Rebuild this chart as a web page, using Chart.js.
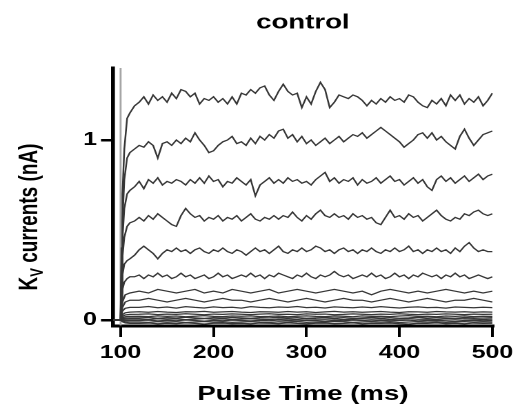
<!DOCTYPE html>
<html><head><meta charset="utf-8">
<script src="https://cdn.jsdelivr.net/npm/chart.js@4.4.0/dist/chart.umd.min.js"></script>
<style>
html,body{margin:0;padding:0;background:#fff;overflow:hidden}
#wrap{position:absolute;left:0;top:0;width:377px;height:407px;transform:scaleX(1.37931);transform-origin:0 0}
</style></head><body>
<div id="wrap"><canvas id="c" width="377" height="407"></canvas></div>
<script>
// ---- text ----
const titleText = 'control';
const xTitle = 'Pulse Time (ms)';
const yTitleMain = 'K', yTitleSub = 'V', yTitleRest = ' currents (nA)';
const xTicks = [100, 200, 300, 400, 500];
const yTicks = [0, 1];

// ---- time bases (ms) ----
const tFine = [92,99,100,101,102,104,107,110,
115,120,125,130,135,140,145,150,155,160,
165,170,175,180,185,190,195,200,205,210,
215,220,225,230,235,240,245,250,255,260,
265,270,275,280,285,290,295,300,305,310,
315,320,325,330,335,340,345,350,355,360,
365,370,375,380,385,390,395,400,405,410,
415,420,425,430,435,440,445,450,455,460,
465,470,475,480,485,490,495,500];
const tCoarse = [92,99,100,102,105,110,
120,130,140,150,160,170,180,190,200,210,
220,230,240,250,260,270,280,290,300,310,
320,330,340,350,360,370,380,390,400,410,
420,430,440,450,460,470,480,490,500];

// ---- current traces (nA) ----
const trace1 = [0,0,0,0.4,0.7,0.95,1.12,1.15,
1.19,1.21,1.24,1.20,1.25,1.22,1.24,1.21,1.26,1.23,
1.28,1.27,1.24,1.26,1.20,1.23,1.22,1.24,1.21,1.23,
1.20,1.24,1.20,1.26,1.25,1.28,1.26,1.29,1.30,1.25,
1.22,1.27,1.31,1.27,1.25,1.26,1.18,1.24,1.20,1.27,
1.32,1.28,1.18,1.21,1.25,1.24,1.23,1.25,1.24,1.22,
1.19,1.22,1.20,1.23,1.21,1.24,1.22,1.23,1.21,1.25,
1.24,1.21,1.19,1.18,1.22,1.20,1.23,1.19,1.25,1.22,
1.25,1.20,1.23,1.21,1.24,1.19,1.22,1.26];
const trace2 = [0,0,0,0.3,0.55,0.78,0.9,0.93,
0.95,0.97,0.96,0.99,0.97,0.90,0.98,0.99,0.97,1.00,
0.98,1.01,0.99,1.04,1.00,0.97,0.93,0.94,0.97,0.99,
1.00,1.02,0.98,0.99,0.97,1.01,0.98,1.02,1.00,1.03,
1.01,1.05,1.06,1.01,1.03,0.99,1.02,0.98,1.00,0.97,
0.99,1.01,0.98,1.00,1.02,0.99,1.01,1.03,1.02,1.04,
1.01,1.03,1.05,1.07,1.05,1.03,1.01,0.99,0.96,0.98,
1.00,1.03,1.04,1.01,1.04,1.00,1.02,0.99,0.97,0.95,
1.02,1.06,1.01,0.97,1.00,1.03,1.04,1.05];
const trace3 = [0,0,0,0.25,0.45,0.62,0.7,0.72,
0.74,0.77,0.73,0.78,0.76,0.79,0.75,0.77,0.76,0.78,
0.77,0.75,0.78,0.76,0.79,0.76,0.80,0.77,0.78,0.74,
0.77,0.76,0.79,0.77,0.75,0.78,0.69,0.75,0.77,0.79,
0.76,0.78,0.76,0.79,0.77,0.78,0.76,0.77,0.75,0.78,
0.80,0.82,0.77,0.79,0.76,0.78,0.77,0.79,0.75,0.78,
0.76,0.77,0.79,0.76,0.78,0.80,0.77,0.78,0.75,0.77,
0.79,0.76,0.78,0.74,0.72,0.78,0.80,0.77,0.79,0.76,
0.78,0.80,0.77,0.79,0.81,0.78,0.80,0.81];
const trace4 = [0,0,0,0.2,0.35,0.46,0.52,0.54,
0.55,0.57,0.55,0.58,0.56,0.59,0.57,0.55,0.53,0.52,
0.58,0.62,0.59,0.57,0.58,0.55,0.57,0.56,0.58,0.55,
0.57,0.56,0.58,0.55,0.57,0.59,0.56,0.55,0.57,0.56,
0.58,0.56,0.58,0.57,0.60,0.57,0.55,0.58,0.56,0.59,
0.61,0.58,0.57,0.59,0.57,0.58,0.56,0.59,0.57,0.58,
0.56,0.57,0.54,0.53,0.57,0.61,0.57,0.58,0.56,0.59,
0.57,0.58,0.55,0.57,0.59,0.61,0.58,0.56,0.55,0.57,
0.56,0.59,0.58,0.60,0.61,0.59,0.58,0.59];
const trace5 = [0,0,0,0.15,0.25,0.31,0.33,0.34,
0.36,0.39,0.41,0.39,0.37,0.34,0.37,0.39,0.38,0.40,
0.38,0.39,0.37,0.39,0.40,0.38,0.37,0.39,0.38,0.40,
0.38,0.37,0.39,0.38,0.36,0.38,0.40,0.38,0.39,0.37,
0.39,0.41,0.38,0.37,0.39,0.38,0.40,0.38,0.39,0.41,
0.40,0.38,0.39,0.37,0.39,0.40,0.38,0.39,0.37,0.39,
0.38,0.40,0.38,0.37,0.39,0.38,0.40,0.38,0.39,0.41,
0.38,0.39,0.37,0.39,0.38,0.40,0.38,0.39,0.37,0.40,
0.38,0.41,0.43,0.40,0.38,0.39,0.38,0.38];
const trace6 = [0,0,0,0.1,0.17,0.21,0.23,0.24,
0.24,0.25,0.23,0.25,0.24,0.26,0.24,0.25,0.23,0.24,
0.26,0.24,0.25,0.23,0.24,0.25,0.23,0.24,0.26,0.24,
0.25,0.23,0.24,0.25,0.24,0.26,0.24,0.25,0.23,0.25,
0.24,0.26,0.25,0.24,0.23,0.25,0.24,0.26,0.24,0.23,
0.25,0.24,0.25,0.27,0.25,0.24,0.25,0.23,0.24,0.25,
0.24,0.26,0.24,0.25,0.23,0.24,0.26,0.24,0.25,0.23,
0.25,0.24,0.26,0.25,0.24,0.25,0.23,0.25,0.24,0.26,
0.24,0.25,0.23,0.24,0.25,0.24,0.23,0.24];
const trace7 = [0,0,0,0.1,0.14,0.15,
0.16,0.15,0.17,0.16,0.15,0.16,0.17,0.15,0.16,0.15,
0.17,0.16,0.15,0.16,0.17,0.15,0.16,0.17,0.16,0.15,
0.16,0.17,0.16,0.15,0.16,0.14,0.16,0.17,0.16,0.15,
0.16,0.15,0.16,0.17,0.16,0.15,0.16,0.15,0.16];
const trace8 = [0,0,0,0.07,0.1,0.11,
0.11,0.12,0.11,0.10,0.11,0.12,0.11,0.10,0.11,0.12,
0.11,0.11,0.10,0.11,0.12,0.11,0.10,0.11,0.12,0.11,
0.10,0.11,0.12,0.11,0.11,0.10,0.11,0.12,0.11,0.10,
0.11,0.12,0.11,0.10,0.11,0.11,0.12,0.11,0.10];
const trace9 = [0,0,0,0.05,0.065,0.07,
0.07,0.075,0.068,0.072,0.066,0.074,0.07,0.067,0.073,0.069,
0.071,0.066,0.074,0.07,0.068,0.072,0.07,0.075,0.069,0.071,
0.067,0.073,0.07,0.068,0.072,0.069,0.074,0.07,0.067,0.071,
0.073,0.069,0.07,0.066,0.072,0.07,0.068,0.071,0.069];
const trace10 = [0,0,0,0.03,0.04,0.044,
0.046,0.043,0.047,0.044,0.042,0.046,0.045,0.048,0.043,0.045,
0.047,0.044,0.042,0.046,0.045,0.043,0.047,0.044,0.046,0.042,
0.045,0.048,0.044,0.046,0.043,0.045,0.047,0.044,0.042,0.046,
0.045,0.043,0.047,0.045,0.044,0.046,0.043,0.045,0.044];
const trace11 = [0,0,0,0.02,0.028,0.031,
0.032,0.034,0.03,0.033,0.031,0.035,0.032,0.029,0.033,0.031,
0.034,0.032,0.03,0.033,0.035,0.031,0.032,0.03,0.034,0.032,
0.033,0.029,0.031,0.034,0.032,0.03,0.033,0.031,0.035,0.032,
0.03,0.033,0.031,0.034,0.032,0.03,0.033,0.031,0.032];
const trace12 = [0,0,0,0.012,0.018,0.02,
0.021,0.019,0.023,0.02,0.022,0.018,0.021,0.024,0.02,0.019,
0.022,0.021,0.023,0.019,0.02,0.022,0.018,0.021,0.023,0.02,
0.019,0.022,0.021,0.018,0.023,0.02,0.021,0.019,0.022,0.024,
0.02,0.021,0.018,0.022,0.02,0.023,0.019,0.021,0.02];
const trace13 = [0,0,0,0.007,0.01,0.012,
0.012,0.014,0.01,0.013,0.011,0.015,0.012,0.009,0.013,0.011,
0.014,0.012,0.01,0.013,0.012,0.015,0.011,0.013,0.01,0.012,
0.014,0.011,0.013,0.009,0.012,0.014,0.011,0.013,0.01,0.012,
0.015,0.011,0.013,0.012,0.01,0.014,0.012,0.011,0.013];
const trace14 = [0,0,0,0.003,0.004,0.005,
0.005,0.003,0.007,0.004,0.006,0.002,0.005,0.008,0.004,0.006,
0.003,0.005,0.007,0.004,0.002,0.006,0.005,0.003,0.007,0.005,
0.004,0.006,0.002,0.005,0.007,0.004,0.006,0.003,0.005,0.008,
0.004,0.005,0.003,0.006,0.004,0.007,0.005,0.003,0.005];
const trace15 = [0,0,0,-0.002,-0.003,-0.003,
-0.003,-0.001,-0.005,-0.002,-0.004,0.0,-0.003,-0.006,-0.002,-0.004,
-0.001,-0.003,-0.005,-0.002,-0.004,0.0,-0.003,-0.005,-0.002,-0.003,
-0.006,-0.002,-0.004,-0.001,-0.003,-0.005,-0.002,-0.004,-0.003,-0.001,
-0.005,-0.003,-0.002,-0.004,-0.006,-0.003,-0.002,-0.004,-0.003];
const trace16 = [0,0,0,-0.006,-0.01,-0.011,
-0.011,-0.013,-0.009,-0.012,-0.01,-0.014,-0.011,-0.008,-0.012,-0.01,
-0.013,-0.011,-0.009,-0.012,-0.014,-0.01,-0.011,-0.009,-0.013,-0.011,
-0.012,-0.008,-0.01,-0.013,-0.011,-0.009,-0.012,-0.01,-0.014,-0.011,
-0.009,-0.012,-0.01,-0.013,-0.011,-0.009,-0.012,-0.01,-0.011];
const trace17 = [0,0,0,-0.01,-0.016,-0.019,
-0.019,-0.017,-0.021,-0.018,-0.02,-0.016,-0.019,-0.022,-0.018,-0.017,
-0.02,-0.019,-0.021,-0.017,-0.018,-0.02,-0.016,-0.019,-0.021,-0.018,
-0.017,-0.02,-0.019,-0.016,-0.021,-0.018,-0.019,-0.017,-0.02,-0.022,
-0.018,-0.019,-0.016,-0.02,-0.018,-0.021,-0.017,-0.019,-0.018];

// capacitive transient at pulse onset
const transientT = [100, 100];
const transientI = [-0.03, 1.4];

const fineTraces = [trace1, trace2, trace3, trace4, trace5, trace6];
const coarseTraces = [trace7, trace8, trace9, trace10, trace11, trace12, trace13, trace14, trace15, trace16, trace17];

const pts = (ts, vs) => ts.map((t, i) => ({x: t, y: vs[i]}));
const lineDs = (data) => ({data, borderColor: '#363636', borderWidth: 1.25, pointRadius: 0, tension: 0, fill: false});

const datasets = [];
fineTraces.forEach(v => datasets.push(lineDs(pts(tFine, v))));
coarseTraces.forEach(v => datasets.push(lineDs(pts(tCoarse, v))));
datasets.push({data: pts(transientT, transientI), borderColor: '#a6a6a6', borderWidth: 1.4, pointRadius: 0, fill: false});

Chart.defaults.font.family = '"Liberation Sans", Arial, sans-serif';
Chart.defaults.color = '#000';

const textPlugin = {
  id: 'texts',
  afterDraw(chart) {
    const ctx = chart.ctx, ca = chart.chartArea;
    ctx.save();
    ctx.fillStyle = '#000';
    ctx.font = 'bold 20px "Liberation Sans", Arial, sans-serif';
    ctx.textAlign = 'center';
    ctx.textBaseline = 'middle';
    ctx.fillText(titleText, (ca.left + ca.right) / 2, 23);
    // y title with subscript
    const fMain = 'bold 19px "Liberation Sans", Arial, sans-serif';
    const fSub = 'bold 13px "Liberation Sans", Arial, sans-serif';
    ctx.font = fMain; const wK = ctx.measureText(yTitleMain).width; const wR = ctx.measureText(yTitleRest).width;
    ctx.font = fSub; const wV = ctx.measureText(yTitleSub).width;
    const total = wK + wV + wR;
    ctx.translate(27, 217);
    ctx.rotate(-Math.PI / 2);
    ctx.textAlign = 'left';
    ctx.textBaseline = 'alphabetic';
    let x = -total / 2;
    ctx.font = fMain; ctx.fillText(yTitleMain, x, 0); x += wK;
    ctx.font = fSub; ctx.fillText(yTitleSub, x, 4); x += wV;
    ctx.font = fMain; ctx.fillText(yTitleRest, x, 0);
    ctx.restore();
  }
};

new Chart(document.getElementById('c'), {
  type: 'line',
  data: {datasets},
  plugins: [textPlugin],
  options: {
    responsive: false,
    animation: false,
    devicePixelRatio: 2,
    events: [],
    layout: {padding: {left: 0, right: 16.9, top: 68, bottom: 0}},
    plugins: {legend: {display: false}, tooltip: {enabled: false}, title: {display: false}},
    scales: {
      x: {
        type: 'linear', min: 91.8, max: 500.5,
        afterBuildTicks: s => { s.ticks = xTicks.map(v => ({value: v})); },
        afterFit: s => { s.height = 81; },
        ticks: {color: '#000', font: {size: 18, weight: 'bold'}, padding: 5, maxRotation: 0, autoSkip: false},
        grid: {drawOnChartArea: false, drawTicks: true, tickLength: 11, color: '#000', lineWidth: 2},
        border: {display: true, color: '#000', width: 3},
        title: {display: true, text: xTitle, color: '#000', font: {size: 20, weight: 'bold'}, padding: {top: 0, bottom: 0.5}}
      },
      y: {
        type: 'linear', min: -0.0333, max: 1.4,
        afterBuildTicks: s => { s.ticks = yTicks.map(v => ({value: v})); },
        afterFit: s => { s.width = 81.9; },
        ticks: {color: '#000', font: {size: 18, weight: 'bold'}, padding: 3},
        grid: {drawOnChartArea: false, drawTicks: true, tickLength: 8.7, color: '#000', lineWidth: 2.5},
        border: {display: true, color: '#000', width: 2.8}
      }
    }
  }
});
</script>
</body></html>
